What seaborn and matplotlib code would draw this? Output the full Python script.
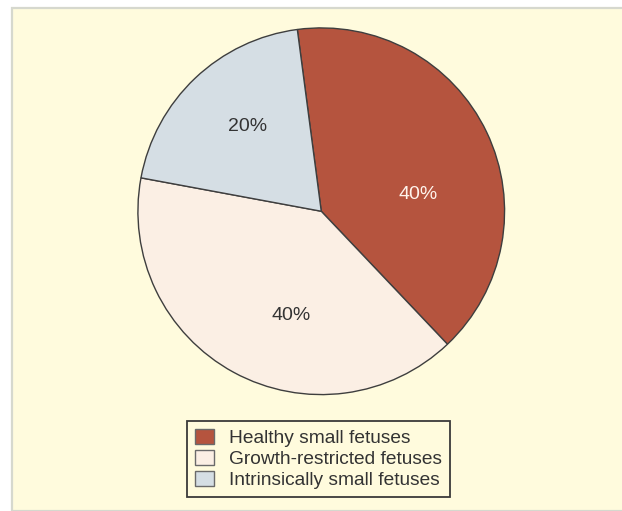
import matplotlib
matplotlib.use("Agg")
import matplotlib.pyplot as plt
import seaborn as sns
from matplotlib.patches import Rectangle, Patch

# Share of small-for-gestational-age fetuses by category
categories = ["Healthy small fetuses", "Growth-restricted fetuses", "Intrinsically small fetuses"]
shares = [40, 40, 20]
pct_labels = ["40%", "40%", "20%"]

colors = ["#B5543E", "#FBEFE4", "#D5DEE4"]
text_colors = ["#FFF4EC", "#333333", "#333333"]
# label anchor points inside each wedge (pie radius = 1)
label_xy = [(0.527, 0.092), (-0.163, -0.571), (-0.402, 0.462)]

sns.set_theme(style="white")
plt.rcParams["font.family"] = ["Liberation Sans", "DejaVu Sans"]

fig = plt.figure(figsize=(6.22, 5.11), dpi=100, facecolor="white")

# cream panel behind the chart
panel = Rectangle((12 / 622, 0), 1.0, 1 - 8 / 511, transform=fig.transFigure,
                  facecolor="#FFFBDD", edgecolor="#D6D8CE", linewidth=1.6, zorder=-10)
fig.patches.append(panel)

ax = fig.add_axes([137 / 622, (511 - 395.5) / 511, 368.5 / 622, 368.5 / 511])
ax.set_facecolor("none")
ax.set_zorder(1)

wedges, _ = ax.pie(shares, colors=colors, startangle=97.5, counterclock=False,
                   wedgeprops=dict(edgecolor="#3E3E3E", linewidth=1.0))
ax.set_xlim(-1.005, 1.005)
ax.set_ylim(-1.005, 1.005)
ax.set_aspect("equal")
ax.axis("off")

for txt, (x, y), c in zip(pct_labels, label_xy, text_colors):
    ax.text(x, y, txt, ha="center", va="center", fontsize=14, color=c)

handles = [Patch(facecolor=c, edgecolor="#6A6A6A", linewidth=1.0) for c in colors]
leg = fig.legend(handles, categories, loc="center", bbox_to_anchor=(318.5 / 622, 1 - 459 / 511),
                 fontsize=13.8, frameon=True, fancybox=False, edgecolor="#3A3A3A",
                 facecolor="#FFFBDD", framealpha=1, labelspacing=0.15,
                 handlelength=1.0, handleheight=0.85, handletextpad=0.75,
                 borderpad=0.42, borderaxespad=0)
leg.get_frame().set_linewidth(1.3)
leg.set_zorder(2)
for t in leg.get_texts():
    t.set_color("#333333")

fig.savefig("out.png", dpi=100, facecolor="white")
